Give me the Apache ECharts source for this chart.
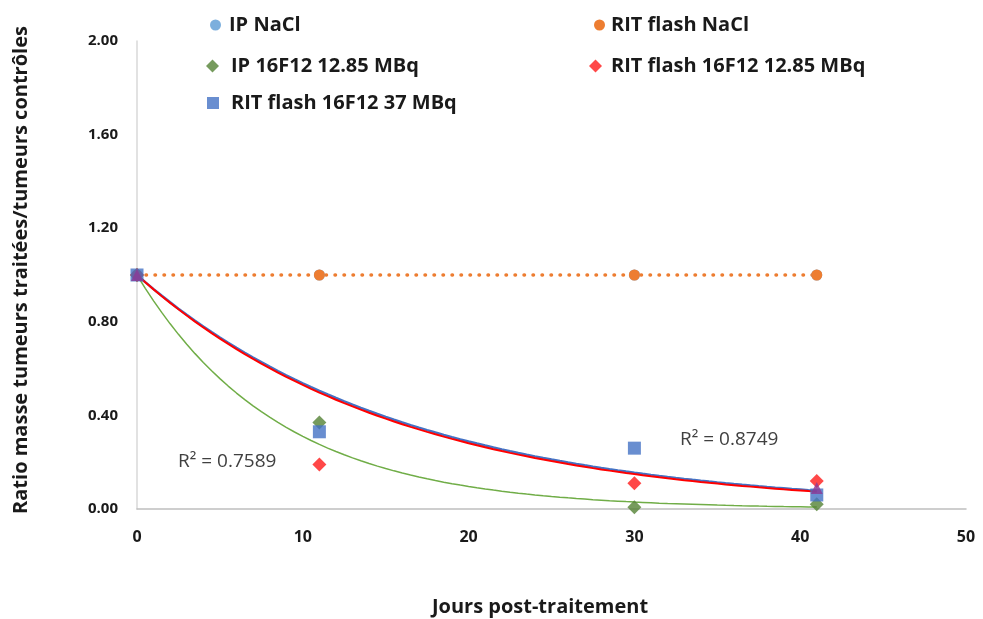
<!DOCTYPE html>
<html><head><meta charset="utf-8">
<script src="https://cdn.jsdelivr.net/npm/echarts@6/dist/echarts.min.js"></script>
<style>html,body{margin:0;padding:0;background:#fff}#c{width:983px;height:619px}</style>
</head><body><div id="c"></div>
<script>
// ---- data ----
const days = [0, 11, 30, 41];
const ipNaCl = [1, 1, 1, 1];
const ritNaCl = [1, 1, 1, 1];
const ip16F12_1285 = [1, 0.37, 0.008, 0.02];
const rit16F12_1285 = [1, 0.19, 0.11, 0.12];
const rit16F12_37 = [1, 0.33, 0.26, 0.06];
const extraDays = [0, 41];
const extraValues = [1, 0.09];
const seriesNames = ['IP NaCl', 'RIT flash NaCl', 'IP 16F12 12.85 MBq', 'RIT flash 16F12 12.85 MBq', 'RIT flash 16F12 37 MBq'];
const r2Labels = ['R² = 0.7589', 'R² = 0.8749'];
const xTickValues = [0, 10, 20, 30, 40, 50];
const yTickValues = [0, 0.4, 0.8, 1.2, 1.6, 2.0];

// ---- helpers ----
const pairs = (xs, ys) => xs.map((x, i) => [x, ys[i]]);
// exponential trendline y = exp(b x) with intercept fixed at 1 (least squares on ln y)
function expTrend(xs, ys) {
  let sxl = 0, sxx = 0;
  xs.forEach((x, i) => { if (x > 0) { sxl += x * Math.log(ys[i]); sxx += x * x; } });
  const b = sxl / sxx;
  const out = [];
  const xmax = Math.max(...xs);
  for (let x = 0; x <= xmax + 1e-9; x += 0.5) out.push([x, Math.exp(b * x)]);
  return out;
}

const FONT = 'Open Sans';
const chart = echarts.init(document.getElementById('c'), null, {renderer: 'canvas'});
function lg(name, left, top, icon, s, padLeft) {
  return {data: [{name: name, icon: icon}], left: left, top: top, itemWidth: s, itemHeight: s, itemGap: 4,
    textStyle: {fontSize: 20, fontWeight: 'bold', color: '#1a1a1a', fontFamily: FONT, padding: [0, 0, 0, padLeft]},
    selectedMode: false, padding: 0};
}

chart.setOption({
  animation: false,
  backgroundColor: '#fff',
  grid: {left: 137, right: 17, top: 41, bottom: 110},
  legend: [
    lg(seriesNames[0], 210, 15, 'circle', 11, 3),
    lg(seriesNames[1], 594, 15, 'circle', 11, 1),
    lg(seriesNames[2], 206, 56, 'diamond', 13, 7),
    lg(seriesNames[3], 589, 56, 'diamond', 13, 4),
    lg(seriesNames[4], 207, 93, 'rect', 12, 7)
  ],
  xAxis: {
    type: 'value', min: xTickValues[0], max: xTickValues[xTickValues.length - 1], interval: 10,
    axisLine: {show: true, lineStyle: {color: '#BFBFBF', width: 1.5}},
    axisTick: {show: false}, splitLine: {show: false},
    axisLabel: {margin: 20, fontSize: 16, fontWeight: 'bold', color: '#1a1a1a', fontFamily: FONT}
  },
  yAxis: {
    type: 'value', min: yTickValues[0], max: yTickValues[yTickValues.length - 1], interval: 0.4,
    axisLine: {show: true, lineStyle: {color: '#D9D9D9', width: 1.5}},
    axisTick: {show: false}, splitLine: {show: false},
    axisLabel: {margin: 19, fontSize: 15, fontWeight: 'bold', color: '#1a1a1a', fontFamily: FONT,
      formatter: v => v.toFixed(2)}
  },
  graphic: [
    {type: 'text', x: 21, y: 270, rotation: Math.PI / 2,
      style: {text: 'Ratio masse tumeurs traitées/tumeurs contrôles', textAlign: 'center', textVerticalAlign: 'middle',
        font: 'bold 20px "Open Sans"', fill: '#1a1a1a'}},
    {type: 'text', x: 540, y: 607,
      style: {text: 'Jours post-traitement', textAlign: 'center', textVerticalAlign: 'middle',
        font: 'bold 20px "Open Sans"', fill: '#1a1a1a'}},
    {type: 'text', x: 178, y: 462,
      style: {text: r2Labels[0], textAlign: 'left', textVerticalAlign: 'middle',
        font: '19px "Open Sans"', fill: '#404040'}},
    {type: 'text', x: 680, y: 440,
      style: {text: r2Labels[1], textAlign: 'left', textVerticalAlign: 'middle',
        font: '19px "Open Sans"', fill: '#404040'}}
  ],
  series: [
    {name: seriesNames[0], type: 'scatter', data: pairs(days, ipNaCl), symbol: 'circle', symbolSize: 11,
      itemStyle: {color: '#5B9BD5'}, z: 3},
    {name: seriesNames[1], type: 'line', data: pairs(days, ritNaCl), symbol: 'circle', symbolSize: 11,
      showAllSymbol: true, itemStyle: {color: '#ED7D31'},
      lineStyle: {color: '#ED7D31', width: 3.5, type: [0.5, 8.5], cap: 'round'}, z: 3},
    {name: 'trend-green', type: 'line', data: expTrend(days, ip16F12_1285), showSymbol: false, symbol: 'none',
      lineStyle: {color: '#70AD47', width: 1.5}, silent: true, z: 2},
    {name: 'trend-blue', type: 'line', data: expTrend(days, rit16F12_37), showSymbol: false, symbol: 'none',
      lineStyle: {color: '#4472C4', width: 2.5}, silent: true, z: 2},
    {name: 'trend-red', type: 'line', data: expTrend(days, rit16F12_1285), showSymbol: false, symbol: 'none',
      lineStyle: {color: '#FF0000', width: 2}, silent: true, z: 2},
    {name: seriesNames[2], type: 'scatter', data: pairs(days, ip16F12_1285), symbol: 'diamond', symbolSize: 14,
      itemStyle: {color: '#548235'}, z: 4},
    {name: seriesNames[3], type: 'scatter', data: pairs(days, rit16F12_1285), symbol: 'diamond', symbolSize: 14,
      itemStyle: {color: '#FF1A1A'}, z: 4},
    {name: seriesNames[4], type: 'scatter', data: pairs(days, rit16F12_37), symbol: 'rect', symbolSize: 13,
      itemStyle: {color: '#4472C4'}, z: 4},
    {name: 'extra', type: 'scatter', data: pairs(extraDays, extraValues), symbol: 'triangle', symbolSize: 12,
      itemStyle: {color: '#8B3A96'}, z: 5}
  ]
});
</script></body></html>
